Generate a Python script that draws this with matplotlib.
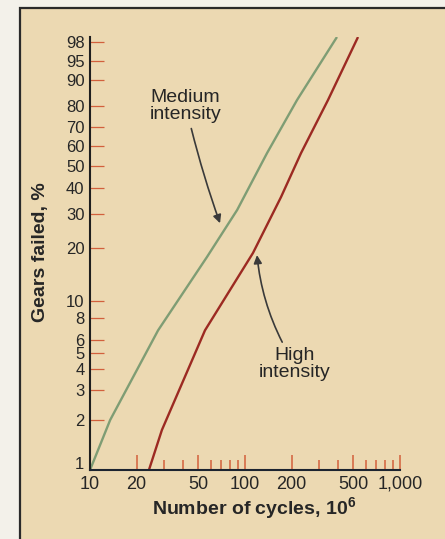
import matplotlib
matplotlib.use('Agg')
import matplotlib.pyplot as plt
import matplotlib.transforms as mtransforms
from matplotlib.patches import Rectangle
import numpy as np

plt.rcParams['font.family'] = ['Liberation Sans', 'DejaVu Sans']
plt.rcParams['mathtext.fontset'] = 'custom'
plt.rcParams['mathtext.rm'] = 'Liberation Sans'
plt.rcParams['mathtext.bf'] = 'Liberation Sans:bold'

# data (cycles in 10^6, percent of gears failed)
medium_cycles = [10, 13.5, 27.5, 56.9, 89.0, 138.7, 216.5, 392]
medium_failed = [1.0, 2.0, 6.8, 17.8, 31.4, 56.5, 82.5, 98.5]
high_cycles = [24.0, 29.1, 55.2, 112.6, 170.7, 229.8, 343, 536]
high_failed = [1.0, 1.74, 6.8, 18.7, 36.3, 56.5, 82.5, 98.5]

y_ticks = [1, 2, 3, 4, 5, 6, 8, 10, 20, 30, 40, 50, 60, 70, 80, 90, 95, 98]
x_major = [10, 20, 50, 100, 200, 500, 1000]
x_major_labels = ['10', '20', '50', '100', '200', '500', '1,000']
x_minor = [30, 40, 60, 70, 80, 90, 300, 400, 600, 700, 800, 900]

ink = '#262626'
tick_col = '#d2603c'


def weib(p):
    p = np.clip(np.asarray(p, dtype=float), 1e-6, 100 - 1e-6)
    return np.log(-np.log(1 - p / 100.0))


def weib_inv(t):
    return 100.0 * (1 - np.exp(-np.exp(t)))


fig = plt.figure(figsize=(4.45, 5.39), dpi=100)
fig.patch.set_facecolor('#f3f1ea')
# scanned page background with its frame
fig.add_artist(Rectangle((20 / 445, -0.1), 1.0, (539 - 8) / 539 + 0.1,
                         transform=fig.transFigure, facecolor='#ecd9b2',
                         edgecolor='#2a2a2a', linewidth=1.6, zorder=-1))

ax = fig.add_axes([90 / 445, 69 / 539, 310 / 445, 433 / 539])
ax.patch.set_alpha(0)
ax.set_xscale('log')
ax.set_yscale('function', functions=(weib, weib_inv))
ax.set_xlim(10, 1000)
ax.set_ylim(1, 98.5)

ax.plot(medium_cycles, medium_failed, color='#7f9d74', lw=1.7, solid_capstyle='butt')
ax.plot(high_cycles, high_failed, color='#9c2a22', lw=1.7, solid_capstyle='butt')

for s in ['top', 'right']:
    ax.spines[s].set_visible(False)
ax.spines['left'].set_color('#1f1f1f')
ax.spines['bottom'].set_color('#1c2430')
ax.spines['left'].set_linewidth(1.5)
ax.spines['bottom'].set_linewidth(1.5)

ax.set_yticks(y_ticks)
ax.set_yticklabels([str(v) for v in y_ticks])
ax.yaxis.set_minor_locator(matplotlib.ticker.NullLocator())
ax.set_xticks(x_major)
ax.set_xticklabels(x_major_labels)
ax.set_xticks(x_minor, minor=True)
ax.xaxis.set_minor_formatter(matplotlib.ticker.NullFormatter())

ax.tick_params(axis='y', direction='in', length=10, width=0.9, color=tick_col,
               labelsize=12, labelcolor=ink, pad=4)
ax.tick_params(axis='x', which='major', direction='in', length=11, width=1.1,
               color=tick_col, labelsize=13, labelcolor=ink, pad=4)
ax.tick_params(axis='x', which='minor', direction='in', length=7.5, width=1.1,
               color=tick_col)
ax.yaxis.get_major_ticks()[0].tick1line.set_visible(False)
ax.xaxis.get_major_ticks()[0].tick1line.set_visible(False)
# lift the "1" so it clears the "10" below it
one = ax.get_yticklabels()[0]
one.set_transform(one.get_transform() +
                  mtransforms.ScaledTranslation(0, 5 / 72, fig.dpi_scale_trans))

fig.text(40 / 445, 1 - 252 / 539, 'Gears failed, %', rotation=90, ha='center',
         va='center', fontsize=14, fontweight='bold', color=ink)
fig.text(254 / 445, 1 - 509 / 539, r'Number of cycles, 10$^\mathbf{6}$', ha='center',
         va='center', fontsize=14, fontweight='bold', color=ink)

arrow = dict(arrowstyle='-|>', color='#3a3a3a', lw=1.2, mutation_scale=12,
             shrinkA=2, shrinkB=0)
ax.annotate('Medium\nintensity', xy=(69, 26.9), xytext=(24.4, 86.9),
            ha='left', va='top', fontsize=14, color=ink, linespacing=1.0,
            arrowprops=dict(arrow, connectionstyle='arc3,rad=0.03'))
ax.annotate('High\nintensity', xy=(119.5, 18.2), xytext=(210, 5.4),
            ha='center', va='top', fontsize=14, color=ink, linespacing=1.0,
            arrowprops=dict(arrow, connectionstyle='arc3,rad=-0.12'))

fig.savefig('out.png', dpi=100, facecolor=fig.get_facecolor())
